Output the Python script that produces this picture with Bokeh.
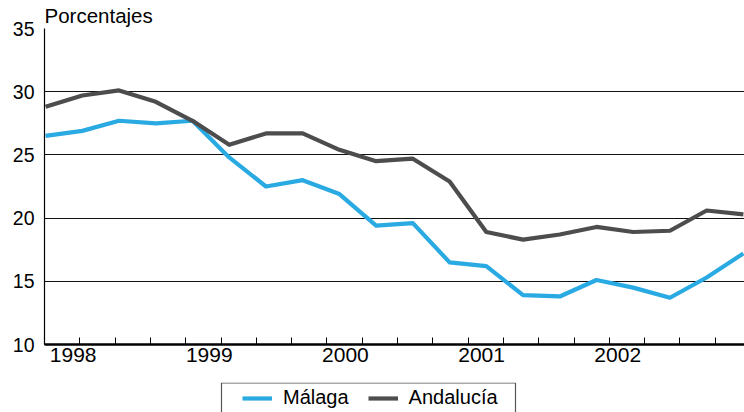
from bokeh.plotting import figure
from bokeh.layouts import column
from bokeh.models import (Range1d, FixedTicker, Legend, LegendItem,
                          BoxAnnotation)
from bokeh.embed import file_html
from bokeh.resources import INLINE

# ---- data (quarterly, 1998 Q1 .. 2002 Q4) ----
quarter = list(range(20))
malaga = [26.5, 26.9, 27.7, 27.5, 27.7, 24.8, 22.5, 23.0, 21.9, 19.4,
          19.6, 16.5, 16.2, 13.9, 13.8, 15.1, 14.5, 13.7, 15.3, 17.2]
andalucia = [28.8, 29.7, 30.1, 29.2, 27.7, 25.8, 26.7, 26.7, 25.4, 24.5,
             24.7, 22.9, 18.9, 18.3, 18.7, 19.3, 18.9, 19.0, 20.6, 20.3]
series_names = ["Málaga", "Andalucía"]
year_labels = ["1998", "1999", "2000", "2001", "2002"]
y_ticks = [10, 15, 20, 25, 30, 35]
y_title = "Porcentajes"

FONT = "Liberation Sans"
BLUE = "#2aaae2"
GRAY = "#4d4d4d"
LW = 4.2

x0, x1 = -0.03, 19.03
year_start, year_step = 0.75, 3.707
tick_start, tick_step = -0.027, 0.961
year_pos = [year_start + i * year_step for i in range(len(year_labels))]
minor_pos = [tick_start + k * tick_step for k in range(20)]

p = figure(width=744, height=382, output_backend="svg", toolbar_location=None,
           x_range=Range1d(x0, x1), y_range=Range1d(10, 35),
           min_border_left=44, min_border_right=0, min_border_top=28,
           min_border_bottom=38)
p.outline_line_color = None
p.background_fill_color = "white"
p.border_fill_color = "white"

# title
p.title.text = y_title
p.title.text_font = FONT
p.title.text_font_size = "20.5px"
p.title.text_font_style = "normal"
p.title.text_color = "black"
p.title.align = "left"
p.title.standoff = 3
p.title.offset = 0

# lines
p.line(quarter, malaga, line_color=BLUE, line_width=LW, line_join="round")
p.line(quarter, andalucia, line_color=GRAY, line_width=LW, line_join="round")

# x axis
xa = p.xaxis[0]
xa.ticker = FixedTicker(ticks=year_pos, minor_ticks=minor_pos)
xa.major_label_overrides = {pos: lab for pos, lab in zip(year_pos, year_labels)}
xa.major_tick_in = 0
xa.major_tick_out = 0
xa.minor_tick_in = 7
xa.minor_tick_out = 0
xa.minor_tick_line_color = "black"
xa.minor_tick_line_width = 1
xa.axis_line_color = "black"
xa.axis_line_width = 2.6
xa.major_label_text_font = FONT
xa.major_label_text_font_size = "21px"
xa.major_label_text_color = "black"
xa.major_label_standoff = 3

# y axis
ya = p.yaxis[0]
ya.ticker = FixedTicker(ticks=y_ticks)
ya.major_tick_in = 0
ya.major_tick_out = 0
ya.minor_tick_line_color = None
ya.axis_line_color = "black"
ya.axis_line_width = 1.2
ya.major_label_text_font = FONT
ya.major_label_text_font_size = "19.5px"
ya.major_label_text_color = "black"
ya.major_label_standoff = 10

p.xgrid.grid_line_color = None
p.ygrid.ticker = FixedTicker(ticks=y_ticks[1:])
p.ygrid.grid_line_color = "#111111"
p.ygrid.grid_line_width = 1

# ---- legend strip below the chart (its frame is aligned with the chart's) ----
lg = figure(width=744, height=30, output_backend="svg", toolbar_location=None,
            x_range=Range1d(0, 1), y_range=Range1d(0, 1),
            x_axis_type=None, y_axis_type=None,
            min_border_left=44, min_border_right=0, min_border_top=0,
            min_border_bottom=0)
lg.outline_line_color = None
lg.grid.grid_line_color = None
lg.background_fill_color = "white"
lg.border_fill_color = "white"

# series drawn outside this strip's ranges, so only their legend swatches show
r_m = lg.line(quarter, malaga, line_color=BLUE, line_width=LW)
r_a = lg.line(quarter, andalucia, line_color=GRAY, line_width=LW)

lg.add_layout(BoxAnnotation(left=177, right=471, top=29.5, bottom=-20,
                            left_units="screen", right_units="screen",
                            top_units="screen", bottom_units="screen",
                            fill_alpha=0, line_color="#555555", line_alpha=1,
                            line_width=1.2, level="overlay"))

legend = Legend(items=[LegendItem(label=series_names[0], renderers=[r_m]),
                       LegendItem(label=series_names[1], renderers=[r_a])],
                orientation="horizontal", location=(198, 3),
                padding=0, margin=0, spacing=19, glyph_width=30,
                glyph_height=20, label_height=20, label_standoff=11,
                label_text_font=FONT, label_text_font_size="20px",
                label_text_color="black", border_line_alpha=0,
                background_fill_alpha=0)
lg.add_layout(legend, "center")

layout = column(p, lg, spacing=0)
open("out.html", "w").write(file_html(layout, INLINE))
